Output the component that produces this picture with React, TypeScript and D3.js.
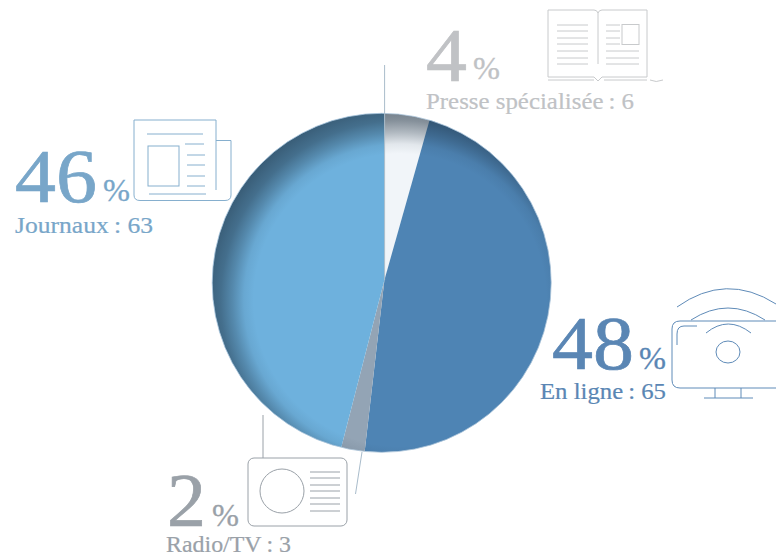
import React from "react";
import * as d3 from "d3";

const categories = ["Presse spécialisée", "En ligne", "Radio/TV", "Journaux"];
const counts = [6, 65, 3, 63];
const percents = [4, 48, 2, 46];
const sliceColors = ["#f1f5f9", "#4e84b4", "#93a4b5", "#6eb1dd"];
const labelColors = ["#c0c2c5", "#5a86b4", "#9aa1a8", "#78a6c9"];

const W = 776, H = 557;
const cx = 381.7, cy = 282.8, R = 169.5;
const apexX = 384.4, apexY = 280;

const FONT = "'Liberation Serif', serif";

function Label({ i, x, y, w, pctX, pctY, textX, textY, textW }: any) {
  const c = labelColors[i];
  return (
    <g fill={c} fontFamily={FONT}>
      <text x={x} y={y} fontSize={77} textLength={w} lengthAdjust="spacingAndGlyphs" stroke={c} strokeWidth={0.7}>{percents[i]}</text>
      <text x={pctX} y={pctY} fontSize={32} textLength={27} lengthAdjust="spacingAndGlyphs" stroke={c} strokeWidth={0.3}>%</text>
      <text x={textX} y={textY} fontSize={23} textLength={textW} lengthAdjust="spacingAndGlyphs" stroke={c} strokeWidth={0.2}>{categories[i]}{"\u2009: "}{counts[i]}</text>
    </g>
  );
}

function hl(x1: number, x2: number, ys: number[]) {
  return ys.map((y) => `M${x1},${y}H${x2}`).join("");
}

export default function App() {
  const pie = d3.pie<number>().sort(null).startAngle(0).endAngle(2 * Math.PI);
  const arcs = pie(counts);
  const arc = d3.arc<d3.PieArcDatum<number>>().innerRadius(0).outerRadius(R * 1.3);
  return (
    <svg width={W} height={H} viewBox={`0 0 ${W} ${H}`} style={{ position: "absolute", left: 0, top: 0 }}>
      <defs>
        <clipPath id="disc"><circle cx={cx} cy={cy} r={R} /></clipPath>
        <radialGradient id="shade" gradientUnits="userSpaceOnUse" cx={400} cy={300} r={195}>
          <stop offset="0.75" stopColor="#1a2c3c" stopOpacity={0} />
          <stop offset="0.8" stopColor="#1a2c3c" stopOpacity={0.07} />
          <stop offset="0.86" stopColor="#1a2c3c" stopOpacity={0.3} />
          <stop offset="0.92" stopColor="#1a2c3c" stopOpacity={0.5} />
          <stop offset="1" stopColor="#1a2c3c" stopOpacity={0.64} />
        </radialGradient>
      </defs>
      <g clipPath="url(#disc)">
        <g transform={`translate(${apexX},${apexY})`}>
          {arcs.map((a, i) => (
            <path key={i} d={arc(a) as string} fill={sliceColors[i]} />
          ))}
        </g>
        <circle cx={cx} cy={cy} r={R} fill="url(#shade)" />
      </g>
      <circle cx={cx} cy={cy} r={R} fill="none" stroke="#a9c3d8" strokeWidth={0.8} />
      <g fill="none" stroke="#a9bccb" strokeWidth={1}>
        <path d="M384.6,65V280" />
        <path d="M362,452L355.5,494" />
        <path d="M263,415V458" stroke="#9aa1a8" />
      </g>

      <Label i={0} x={426} y={81} w={41} pctX={473} pctY={79} textX={426} textY={109} textW={208} />
      <Label i={3} x={15} y={202} w={82} pctX={103} pctY={201} textX={15} textY={233} textW={138} />
      <Label i={1} x={552} y={369} w={82} pctX={639} pctY={369} textX={540} textY={399} textW={126} />
      <Label i={2} x={167} y={526} w={39} pctX={212} pctY={526} textX={166} textY={552} textW={125} />

      {/* book icon */}
      <g fill="none" stroke="#c8cacc" strokeWidth={1}>
        <path d="M548,77V10H594Q597,10 598,13Q599,10 602,10H647V77" />
        <path d="M548,77H594L598,81L602,77H647" />
        <path d="M548,80H594M604,80H647" />
        <path d="M598,13V64" />
        <path d={hl(557, 588, [25, 31, 38, 44, 51, 58, 64])} />
        <path d={hl(606, 620, [25, 31, 38, 44])} />
        <path d={hl(606, 639, [51, 58, 64])} />
        <rect x={622} y={24.5} width={17} height={20} />
        <path d="M650,80Q656,83 663,80" />
      </g>

      {/* newspaper icon */}
      <g fill="none" stroke="#86afce" strokeWidth={1}>
        <path d="M216,140.5H231V195Q231,200.5 225,200.5H140Q134,200.5 134,195V120H216V190" />
        <path d={hl(147, 203, [134])} />
        <rect x={148} y={146} width={31} height={40} />
        <path d={hl(185, 204, [144])} />
        <path d={hl(187, 205, [155, 165, 176, 186])} />
        <path d={hl(149, 206, [194])} />
      </g>

      {/* monitor icon */}
      <g fill="none" stroke="#5f8bb8" strokeWidth={1}>
        <path d="M776,321H680Q672,321 672,329V380Q672,388 680,388H776" />
        <path d="M677,345V334Q677,326 684,326H697" />
        <path d="M677,307Q726,272 776,304" />
        <path d="M691,320Q728,296 765,320" />
        <path d="M706,333Q728,315 751,333" />
        <ellipse cx={728} cy={352} rx={12} ry={11} />
        <path d="M715,388V398M741,388V398M704,398H753" />
      </g>

      {/* radio icon */}
      <g fill="none" stroke="#9aa1a8" strokeWidth={1}>
        <rect x={248} y={458} width={99} height={68} rx={6} />
        <circle cx={282} cy={491} r={22} />
        <path d={hl(310, 340, [472, 478, 485, 491, 498, 504, 511])} />
      </g>
    </svg>
  );
}
